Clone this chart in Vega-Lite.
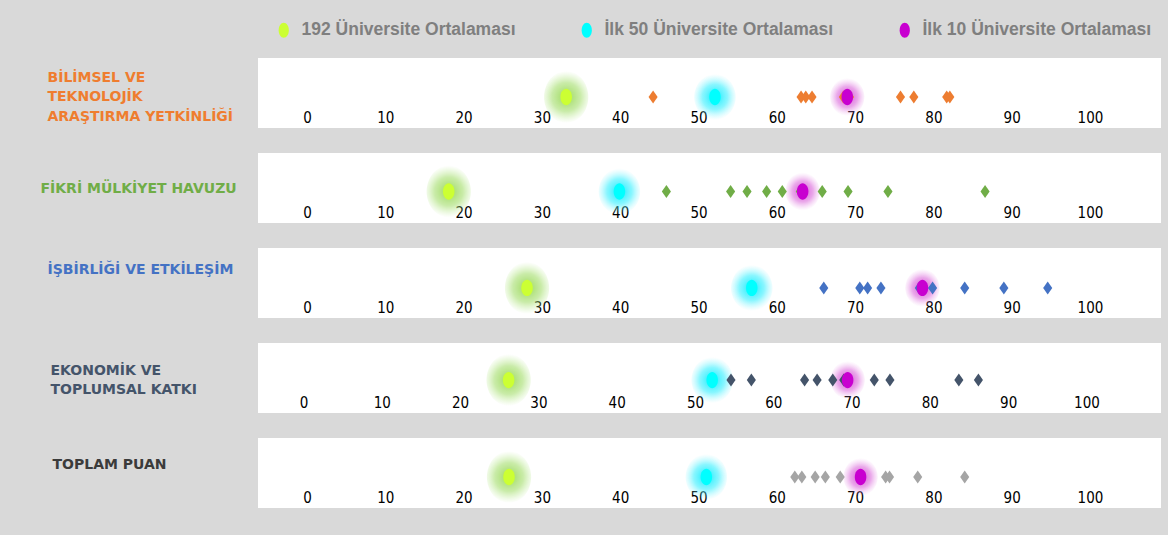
{
  "$schema": "https://vega.github.io/schema/vega-lite/v6.json",
  "background": "#d9d9d9",
  "padding": {"top": 21, "left": 40, "right": 7, "bottom": 27},
  "config": {"view": {"fill": "white", "stroke": null}},
  "datasets": {
    "puanlar": [
      {"kategori": "BİLİMSEL VE TEKNOLOJİK ARAŞTIRMA YETKİNLİĞİ", "seri": "192 Üniversite Ortalaması", "deger": 33.1},
      {"kategori": "BİLİMSEL VE TEKNOLOJİK ARAŞTIRMA YETKİNLİĞİ", "seri": "İlk 50 Üniversite Ortalaması", "deger": 52.1},
      {"kategori": "BİLİMSEL VE TEKNOLOJİK ARAŞTIRMA YETKİNLİĞİ", "seri": "İlk 10 Üniversite Ortalaması", "deger": 69.0},
      {"kategori": "BİLİMSEL VE TEKNOLOJİK ARAŞTIRMA YETKİNLİĞİ", "seri": "Üniversite", "deger": 44.2},
      {"kategori": "BİLİMSEL VE TEKNOLOJİK ARAŞTIRMA YETKİNLİĞİ", "seri": "Üniversite", "deger": 63.1},
      {"kategori": "BİLİMSEL VE TEKNOLOJİK ARAŞTIRMA YETKİNLİĞİ", "seri": "Üniversite", "deger": 63.7},
      {"kategori": "BİLİMSEL VE TEKNOLOJİK ARAŞTIRMA YETKİNLİĞİ", "seri": "Üniversite", "deger": 64.5},
      {"kategori": "BİLİMSEL VE TEKNOLOJİK ARAŞTIRMA YETKİNLİĞİ", "seri": "Üniversite", "deger": 68.5},
      {"kategori": "BİLİMSEL VE TEKNOLOJİK ARAŞTIRMA YETKİNLİĞİ", "seri": "Üniversite", "deger": 69.3},
      {"kategori": "BİLİMSEL VE TEKNOLOJİK ARAŞTIRMA YETKİNLİĞİ", "seri": "Üniversite", "deger": 75.8},
      {"kategori": "BİLİMSEL VE TEKNOLOJİK ARAŞTIRMA YETKİNLİĞİ", "seri": "Üniversite", "deger": 77.5},
      {"kategori": "BİLİMSEL VE TEKNOLOJİK ARAŞTIRMA YETKİNLİĞİ", "seri": "Üniversite", "deger": 81.7},
      {"kategori": "BİLİMSEL VE TEKNOLOJİK ARAŞTIRMA YETKİNLİĞİ", "seri": "Üniversite", "deger": 82.1},
      {"kategori": "FİKRİ MÜLKİYET HAVUZU", "seri": "192 Üniversite Ortalaması", "deger": 18.1},
      {"kategori": "FİKRİ MÜLKİYET HAVUZU", "seri": "İlk 50 Üniversite Ortalaması", "deger": 39.9},
      {"kategori": "FİKRİ MÜLKİYET HAVUZU", "seri": "İlk 10 Üniversite Ortalaması", "deger": 63.3},
      {"kategori": "FİKRİ MÜLKİYET HAVUZU", "seri": "Üniversite", "deger": 45.9},
      {"kategori": "FİKRİ MÜLKİYET HAVUZU", "seri": "Üniversite", "deger": 54.1},
      {"kategori": "FİKRİ MÜLKİYET HAVUZU", "seri": "Üniversite", "deger": 56.2},
      {"kategori": "FİKRİ MÜLKİYET HAVUZU", "seri": "Üniversite", "deger": 58.7},
      {"kategori": "FİKRİ MÜLKİYET HAVUZU", "seri": "Üniversite", "deger": 60.7},
      {"kategori": "FİKRİ MÜLKİYET HAVUZU", "seri": "Üniversite", "deger": 63.0},
      {"kategori": "FİKRİ MÜLKİYET HAVUZU", "seri": "Üniversite", "deger": 65.8},
      {"kategori": "FİKRİ MÜLKİYET HAVUZU", "seri": "Üniversite", "deger": 69.1},
      {"kategori": "FİKRİ MÜLKİYET HAVUZU", "seri": "Üniversite", "deger": 74.2},
      {"kategori": "FİKRİ MÜLKİYET HAVUZU", "seri": "Üniversite", "deger": 86.6},
      {"kategori": "İŞBİRLİĞİ VE ETKİLEŞİM", "seri": "192 Üniversite Ortalaması", "deger": 28.1},
      {"kategori": "İŞBİRLİĞİ VE ETKİLEŞİM", "seri": "İlk 50 Üniversite Ortalaması", "deger": 56.8},
      {"kategori": "İŞBİRLİĞİ VE ETKİLEŞİM", "seri": "İlk 10 Üniversite Ortalaması", "deger": 78.6},
      {"kategori": "İŞBİRLİĞİ VE ETKİLEŞİM", "seri": "Üniversite", "deger": 66.0},
      {"kategori": "İŞBİRLİĞİ VE ETKİLEŞİM", "seri": "Üniversite", "deger": 70.6},
      {"kategori": "İŞBİRLİĞİ VE ETKİLEŞİM", "seri": "Üniversite", "deger": 71.6},
      {"kategori": "İŞBİRLİĞİ VE ETKİLEŞİM", "seri": "Üniversite", "deger": 73.3},
      {"kategori": "İŞBİRLİĞİ VE ETKİLEŞİM", "seri": "Üniversite", "deger": 78.2},
      {"kategori": "İŞBİRLİĞİ VE ETKİLEŞİM", "seri": "Üniversite", "deger": 78.8},
      {"kategori": "İŞBİRLİĞİ VE ETKİLEŞİM", "seri": "Üniversite", "deger": 79.9},
      {"kategori": "İŞBİRLİĞİ VE ETKİLEŞİM", "seri": "Üniversite", "deger": 84.0},
      {"kategori": "İŞBİRLİĞİ VE ETKİLEŞİM", "seri": "Üniversite", "deger": 89.0},
      {"kategori": "İŞBİRLİĞİ VE ETKİLEŞİM", "seri": "Üniversite", "deger": 94.6},
      {"kategori": "EKONOMİK VE TOPLUMSAL KATKI", "seri": "192 Üniversite Ortalaması", "deger": 26.2},
      {"kategori": "EKONOMİK VE TOPLUMSAL KATKI", "seri": "İlk 50 Üniversite Ortalaması", "deger": 52.2},
      {"kategori": "EKONOMİK VE TOPLUMSAL KATKI", "seri": "İlk 10 Üniversite Ortalaması", "deger": 69.5},
      {"kategori": "EKONOMİK VE TOPLUMSAL KATKI", "seri": "Üniversite", "deger": 54.6},
      {"kategori": "EKONOMİK VE TOPLUMSAL KATKI", "seri": "Üniversite", "deger": 57.2},
      {"kategori": "EKONOMİK VE TOPLUMSAL KATKI", "seri": "Üniversite", "deger": 64.0},
      {"kategori": "EKONOMİK VE TOPLUMSAL KATKI", "seri": "Üniversite", "deger": 65.6},
      {"kategori": "EKONOMİK VE TOPLUMSAL KATKI", "seri": "Üniversite", "deger": 67.6},
      {"kategori": "EKONOMİK VE TOPLUMSAL KATKI", "seri": "Üniversite", "deger": 69.0},
      {"kategori": "EKONOMİK VE TOPLUMSAL KATKI", "seri": "Üniversite", "deger": 72.9},
      {"kategori": "EKONOMİK VE TOPLUMSAL KATKI", "seri": "Üniversite", "deger": 74.9},
      {"kategori": "EKONOMİK VE TOPLUMSAL KATKI", "seri": "Üniversite", "deger": 83.7},
      {"kategori": "EKONOMİK VE TOPLUMSAL KATKI", "seri": "Üniversite", "deger": 86.2},
      {"kategori": "TOPLAM PUAN", "seri": "192 Üniversite Ortalaması", "deger": 25.8},
      {"kategori": "TOPLAM PUAN", "seri": "İlk 50 Üniversite Ortalaması", "deger": 51.0},
      {"kategori": "TOPLAM PUAN", "seri": "İlk 10 Üniversite Ortalaması", "deger": 70.7},
      {"kategori": "TOPLAM PUAN", "seri": "Üniversite", "deger": 62.3},
      {"kategori": "TOPLAM PUAN", "seri": "Üniversite", "deger": 63.2},
      {"kategori": "TOPLAM PUAN", "seri": "Üniversite", "deger": 64.9},
      {"kategori": "TOPLAM PUAN", "seri": "Üniversite", "deger": 66.2},
      {"kategori": "TOPLAM PUAN", "seri": "Üniversite", "deger": 68.1},
      {"kategori": "TOPLAM PUAN", "seri": "Üniversite", "deger": 70.8},
      {"kategori": "TOPLAM PUAN", "seri": "Üniversite", "deger": 73.9},
      {"kategori": "TOPLAM PUAN", "seri": "Üniversite", "deger": 74.4},
      {"kategori": "TOPLAM PUAN", "seri": "Üniversite", "deger": 78.0},
      {"kategori": "TOPLAM PUAN", "seri": "Üniversite", "deger": 84.0}
    ]
  },
  "data": {"name": "puanlar"},
  "spacing": 25,
  "bounds": "flush",
  "vconcat": [
    {
      "width": 903, "height": 70,
      "transform": [{"filter": "datum.kategori === 'BİLİMSEL VE TEKNOLOJİK ARAŞTIRMA YETKİNLİĞİ'"}],
      "encoding": {
        "x": {"field": "deger", "type": "quantitative", "scale": {"domain": [-6.26, 109.07], "nice": false, "zero": false},
          "axis": {"orient": "bottom", "offset": -18, "values": [0,10,20,30,40,50,60,70,80,90,100], "domain": false, "ticks": false, "grid": false, "title": null, "labelPadding": 0, "labelFont": "Liberation Sans Narrow, DejaVu Sans Condensed, sans-serif", "labelFontSize": 15, "labelColor": "#000000", "labelFlush": false, "labelOverlap": false}},
        "y": {"field": "kategori", "type": "nominal", "scale": {"type": "point", "align": 0.557},
          "axis": {"title": null, "domain": false, "ticks": false, "labelAlign": "left", "labelBaseline": "middle", "labelPadding": 211, "labelOffset": -19.5, "labelColor": "#ef7d2f", "labelFont": "DejaVu Sans", "labelFontWeight": "bold", "labelFontSize": 14, "labelLineHeight": 19.5, "labelLimit": 400, "labelExpr": "['BİLİMSEL VE', 'TEKNOLOJİK', 'ARAŞTIRMA YETKİNLİĞİ']"}}
      },
      "layer": [
        {"transform": [{"aggregate": [{"op": "count", "as": "n"}], "groupby": ["kategori"]}], "mark": {"type": "rule", "color": "#d6d6d6", "strokeWidth": 2}, "encoding": {"x": {"datum": 0}, "x2": {"datum": 100}}},
        {"transform": [{"filter": "datum.seri === '192 Üniversite Ortalaması'"}], "mark": {"type": "point", "shape": "M-0.85,0A0.85,1 0 1,0 0.85,0A0.85,1 0 1,0 -0.85,0Z", "size": 2704, "filled": true, "opacity": 1, "strokeWidth": 0, "fill": {"gradient": "radial", "stops": [{"offset": 0, "color": "rgba(150,215,80,0.95)"}, {"offset": 0.55, "color": "rgba(165,222,110,0.6)"}, {"offset": 1, "color": "rgba(190,235,150,0)"}]}}},
        {"transform": [{"filter": "datum.seri === 'İlk 50 Üniversite Ortalaması'"}], "mark": {"type": "point", "shape": "M-0.9,0A0.9,1 0 1,0 0.9,0A0.9,1 0 1,0 -0.9,0Z", "size": 2116, "filled": true, "opacity": 1, "strokeWidth": 0, "fill": {"gradient": "radial", "stops": [{"offset": 0, "color": "rgba(0,235,255,0.95)"}, {"offset": 0.55, "color": "rgba(60,240,255,0.6)"}, {"offset": 1, "color": "rgba(150,245,255,0)"}]}}},
        {"transform": [{"filter": "datum.seri === 'İlk 10 Üniversite Ortalaması'"}], "mark": {"type": "point", "shape": "M-0.9,0A0.9,1 0 1,0 0.9,0A0.9,1 0 1,0 -0.9,0Z", "size": 1444, "filled": true, "opacity": 1, "strokeWidth": 0, "fill": {"gradient": "radial", "stops": [{"offset": 0, "color": "rgba(210,70,210,0.95)"}, {"offset": 0.55, "color": "rgba(220,110,220,0.6)"}, {"offset": 1, "color": "rgba(235,170,235,0)"}]}}},
        {"transform": [{"filter": "datum.seri === 'Üniversite'"}], "mark": {"type": "point", "shape": "M0,-1L0.7,0L0,1L-0.7,0Z", "size": 169, "filled": true, "opacity": 1, "color": "#ed7d31"}},
        {"transform": [{"filter": "datum.seri !== 'Üniversite'"}], "mark": {"type": "point", "shape": "M-0.7,0A0.7,1 0 1,0 0.7,0A0.7,1 0 1,0 -0.7,0Z", "size": 270, "filled": true, "opacity": 1},
          "encoding": {"color": {"field": "seri", "type": "nominal", "scale": {"domain": ["192 Üniversite Ortalaması", "İlk 50 Üniversite Ortalaması", "İlk 10 Üniversite Ortalaması"], "range": ["#ccff33", "#00ffff", "#c800d0"]},
            "legend": {"title": null, "orient": "none", "direction": "horizontal", "legendX": 17, "legendY": -37, "symbolType": "M-0.68,0A0.68,1 0 1,0 0.68,0A0.68,1 0 1,0 -0.68,0Z", "symbolSize": 225, "symbolStrokeWidth": 0, "symbolOpacity": 1, "labelFont": "Liberation Sans", "labelFontWeight": "bold", "labelFontSize": 17.5, "labelColor": "#7f7f7f", "columnPadding": 62, "labelOffset": 9, "labelLimit": 400}}}}
      ]
    },
    {
      "width": 903, "height": 70,
      "transform": [{"filter": "datum.kategori === 'FİKRİ MÜLKİYET HAVUZU'"}],
      "encoding": {
        "x": {"field": "deger", "type": "quantitative", "scale": {"domain": [-6.26, 109.07], "nice": false, "zero": false},
          "axis": {"orient": "bottom", "offset": -18, "values": [0,10,20,30,40,50,60,70,80,90,100], "domain": false, "ticks": false, "grid": false, "title": null, "labelPadding": 0, "labelFont": "Liberation Sans Narrow, DejaVu Sans Condensed, sans-serif", "labelFontSize": 15, "labelColor": "#000000", "labelFlush": false, "labelOverlap": false}},
        "y": {"field": "kategori", "type": "nominal", "scale": {"type": "point", "align": 0.55},
          "axis": {"title": null, "domain": false, "ticks": false, "labelAlign": "left", "labelBaseline": "middle", "labelPadding": 218, "labelOffset": -3, "labelColor": "#70ad47", "labelFont": "DejaVu Sans", "labelFontWeight": "bold", "labelFontSize": 14, "labelLimit": 400}}
      },
      "layer": [
        {"transform": [{"aggregate": [{"op": "count", "as": "n"}], "groupby": ["kategori"]}], "mark": {"type": "rule", "color": "#d6d6d6", "strokeWidth": 2}, "encoding": {"x": {"datum": 0}, "x2": {"datum": 100}}},
        {"transform": [{"filter": "datum.seri === '192 Üniversite Ortalaması'"}], "mark": {"type": "point", "shape": "M-0.85,0A0.85,1 0 1,0 0.85,0A0.85,1 0 1,0 -0.85,0Z", "size": 2704, "filled": true, "opacity": 1, "strokeWidth": 0, "fill": {"gradient": "radial", "stops": [{"offset": 0, "color": "rgba(150,215,80,0.95)"}, {"offset": 0.55, "color": "rgba(165,222,110,0.6)"}, {"offset": 1, "color": "rgba(190,235,150,0)"}]}}},
        {"transform": [{"filter": "datum.seri === 'İlk 50 Üniversite Ortalaması'"}], "mark": {"type": "point", "shape": "M-0.9,0A0.9,1 0 1,0 0.9,0A0.9,1 0 1,0 -0.9,0Z", "size": 2116, "filled": true, "opacity": 1, "strokeWidth": 0, "fill": {"gradient": "radial", "stops": [{"offset": 0, "color": "rgba(0,235,255,0.95)"}, {"offset": 0.55, "color": "rgba(60,240,255,0.6)"}, {"offset": 1, "color": "rgba(150,245,255,0)"}]}}},
        {"transform": [{"filter": "datum.seri === 'İlk 10 Üniversite Ortalaması'"}], "mark": {"type": "point", "shape": "M-0.9,0A0.9,1 0 1,0 0.9,0A0.9,1 0 1,0 -0.9,0Z", "size": 1444, "filled": true, "opacity": 1, "strokeWidth": 0, "fill": {"gradient": "radial", "stops": [{"offset": 0, "color": "rgba(210,70,210,0.95)"}, {"offset": 0.55, "color": "rgba(220,110,220,0.6)"}, {"offset": 1, "color": "rgba(235,170,235,0)"}]}}},
        {"transform": [{"filter": "datum.seri === 'Üniversite'"}], "mark": {"type": "point", "shape": "M0,-1L0.7,0L0,1L-0.7,0Z", "size": 169, "filled": true, "opacity": 1, "color": "#70ad47"}},
        {"transform": [{"filter": "datum.seri !== 'Üniversite'"}], "mark": {"type": "point", "shape": "M-0.7,0A0.7,1 0 1,0 0.7,0A0.7,1 0 1,0 -0.7,0Z", "size": 270, "filled": true, "opacity": 1},
          "encoding": {"color": {"field": "seri", "type": "nominal", "scale": {"domain": ["192 Üniversite Ortalaması", "İlk 50 Üniversite Ortalaması", "İlk 10 Üniversite Ortalaması"], "range": ["#ccff33", "#00ffff", "#c800d0"]},
            "legend": {"title": null, "orient": "none", "direction": "horizontal", "legendX": 17, "legendY": -37, "symbolType": "M-0.68,0A0.68,1 0 1,0 0.68,0A0.68,1 0 1,0 -0.68,0Z", "symbolSize": 225, "symbolStrokeWidth": 0, "symbolOpacity": 1, "labelFont": "Liberation Sans", "labelFontWeight": "bold", "labelFontSize": 17.5, "labelColor": "#7f7f7f", "columnPadding": 62, "labelOffset": 9, "labelLimit": 400}}}}
      ]
    },
    {
      "width": 903, "height": 70,
      "transform": [{"filter": "datum.kategori === 'İŞBİRLİĞİ VE ETKİLEŞİM'"}],
      "encoding": {
        "x": {"field": "deger", "type": "quantitative", "scale": {"domain": [-6.26, 109.07], "nice": false, "zero": false},
          "axis": {"orient": "bottom", "offset": -18, "values": [0,10,20,30,40,50,60,70,80,90,100], "domain": false, "ticks": false, "grid": false, "title": null, "labelPadding": 0, "labelFont": "Liberation Sans Narrow, DejaVu Sans Condensed, sans-serif", "labelFontSize": 15, "labelColor": "#000000", "labelFlush": false, "labelOverlap": false}},
        "y": {"field": "kategori", "type": "nominal", "scale": {"type": "point", "align": 0.57},
          "axis": {"title": null, "domain": false, "ticks": false, "labelAlign": "left", "labelBaseline": "middle", "labelPadding": 211, "labelOffset": -18, "labelColor": "#4472c4", "labelFont": "DejaVu Sans", "labelFontWeight": "bold", "labelFontSize": 14, "labelLimit": 400}}
      },
      "layer": [
        {"transform": [{"aggregate": [{"op": "count", "as": "n"}], "groupby": ["kategori"]}], "mark": {"type": "rule", "color": "#d6d6d6", "strokeWidth": 2}, "encoding": {"x": {"datum": 0}, "x2": {"datum": 100}}},
        {"transform": [{"filter": "datum.seri === '192 Üniversite Ortalaması'"}], "mark": {"type": "point", "shape": "M-0.85,0A0.85,1 0 1,0 0.85,0A0.85,1 0 1,0 -0.85,0Z", "size": 2704, "filled": true, "opacity": 1, "strokeWidth": 0, "fill": {"gradient": "radial", "stops": [{"offset": 0, "color": "rgba(150,215,80,0.95)"}, {"offset": 0.55, "color": "rgba(165,222,110,0.6)"}, {"offset": 1, "color": "rgba(190,235,150,0)"}]}}},
        {"transform": [{"filter": "datum.seri === 'İlk 50 Üniversite Ortalaması'"}], "mark": {"type": "point", "shape": "M-0.9,0A0.9,1 0 1,0 0.9,0A0.9,1 0 1,0 -0.9,0Z", "size": 2116, "filled": true, "opacity": 1, "strokeWidth": 0, "fill": {"gradient": "radial", "stops": [{"offset": 0, "color": "rgba(0,235,255,0.95)"}, {"offset": 0.55, "color": "rgba(60,240,255,0.6)"}, {"offset": 1, "color": "rgba(150,245,255,0)"}]}}},
        {"transform": [{"filter": "datum.seri === 'İlk 10 Üniversite Ortalaması'"}], "mark": {"type": "point", "shape": "M-0.9,0A0.9,1 0 1,0 0.9,0A0.9,1 0 1,0 -0.9,0Z", "size": 1444, "filled": true, "opacity": 1, "strokeWidth": 0, "fill": {"gradient": "radial", "stops": [{"offset": 0, "color": "rgba(210,70,210,0.95)"}, {"offset": 0.55, "color": "rgba(220,110,220,0.6)"}, {"offset": 1, "color": "rgba(235,170,235,0)"}]}}},
        {"transform": [{"filter": "datum.seri === 'Üniversite'"}], "mark": {"type": "point", "shape": "M0,-1L0.7,0L0,1L-0.7,0Z", "size": 169, "filled": true, "opacity": 1, "color": "#4472c4"}},
        {"transform": [{"filter": "datum.seri !== 'Üniversite'"}], "mark": {"type": "point", "shape": "M-0.7,0A0.7,1 0 1,0 0.7,0A0.7,1 0 1,0 -0.7,0Z", "size": 270, "filled": true, "opacity": 1},
          "encoding": {"color": {"field": "seri", "type": "nominal", "scale": {"domain": ["192 Üniversite Ortalaması", "İlk 50 Üniversite Ortalaması", "İlk 10 Üniversite Ortalaması"], "range": ["#ccff33", "#00ffff", "#c800d0"]},
            "legend": {"title": null, "orient": "none", "direction": "horizontal", "legendX": 17, "legendY": -37, "symbolType": "M-0.68,0A0.68,1 0 1,0 0.68,0A0.68,1 0 1,0 -0.68,0Z", "symbolSize": 225, "symbolStrokeWidth": 0, "symbolOpacity": 1, "labelFont": "Liberation Sans", "labelFontWeight": "bold", "labelFontSize": 17.5, "labelColor": "#7f7f7f", "columnPadding": 62, "labelOffset": 9, "labelLimit": 400}}}}
      ]
    },
    {
      "width": 903, "height": 70,
      "transform": [{"filter": "datum.kategori === 'EKONOMİK VE TOPLUMSAL KATKI'"}],
      "encoding": {
        "x": {"field": "deger", "type": "quantitative", "scale": {"domain": [-5.81, 109.52], "nice": false, "zero": false},
          "axis": {"orient": "bottom", "offset": -18, "values": [0,10,20,30,40,50,60,70,80,90,100], "domain": false, "ticks": false, "grid": false, "title": null, "labelPadding": 0, "labelFont": "Liberation Sans Narrow, DejaVu Sans Condensed, sans-serif", "labelFontSize": 15, "labelColor": "#000000", "labelFlush": false, "labelOverlap": false}},
        "y": {"field": "kategori", "type": "nominal", "scale": {"type": "point", "align": 0.53},
          "axis": {"title": null, "domain": false, "ticks": false, "labelAlign": "left", "labelBaseline": "middle", "labelPadding": 208, "labelOffset": -9.75, "labelColor": "#44546a", "labelFont": "DejaVu Sans", "labelFontWeight": "bold", "labelFontSize": 14, "labelLineHeight": 19.5, "labelLimit": 400, "labelExpr": "['EKONOMİK VE', 'TOPLUMSAL KATKI']"}}
      },
      "layer": [
        {"transform": [{"aggregate": [{"op": "count", "as": "n"}], "groupby": ["kategori"]}], "mark": {"type": "rule", "color": "#d6d6d6", "strokeWidth": 2}, "encoding": {"x": {"datum": 0}, "x2": {"datum": 100}}},
        {"transform": [{"filter": "datum.seri === '192 Üniversite Ortalaması'"}], "mark": {"type": "point", "shape": "M-0.85,0A0.85,1 0 1,0 0.85,0A0.85,1 0 1,0 -0.85,0Z", "size": 2704, "filled": true, "opacity": 1, "strokeWidth": 0, "fill": {"gradient": "radial", "stops": [{"offset": 0, "color": "rgba(150,215,80,0.95)"}, {"offset": 0.55, "color": "rgba(165,222,110,0.6)"}, {"offset": 1, "color": "rgba(190,235,150,0)"}]}}},
        {"transform": [{"filter": "datum.seri === 'İlk 50 Üniversite Ortalaması'"}], "mark": {"type": "point", "shape": "M-0.9,0A0.9,1 0 1,0 0.9,0A0.9,1 0 1,0 -0.9,0Z", "size": 2116, "filled": true, "opacity": 1, "strokeWidth": 0, "fill": {"gradient": "radial", "stops": [{"offset": 0, "color": "rgba(0,235,255,0.95)"}, {"offset": 0.55, "color": "rgba(60,240,255,0.6)"}, {"offset": 1, "color": "rgba(150,245,255,0)"}]}}},
        {"transform": [{"filter": "datum.seri === 'İlk 10 Üniversite Ortalaması'"}], "mark": {"type": "point", "shape": "M-0.9,0A0.9,1 0 1,0 0.9,0A0.9,1 0 1,0 -0.9,0Z", "size": 1444, "filled": true, "opacity": 1, "strokeWidth": 0, "fill": {"gradient": "radial", "stops": [{"offset": 0, "color": "rgba(210,70,210,0.95)"}, {"offset": 0.55, "color": "rgba(220,110,220,0.6)"}, {"offset": 1, "color": "rgba(235,170,235,0)"}]}}},
        {"transform": [{"filter": "datum.seri === 'Üniversite'"}], "mark": {"type": "point", "shape": "M0,-1L0.7,0L0,1L-0.7,0Z", "size": 169, "filled": true, "opacity": 1, "color": "#44546a"}},
        {"transform": [{"filter": "datum.seri !== 'Üniversite'"}], "mark": {"type": "point", "shape": "M-0.7,0A0.7,1 0 1,0 0.7,0A0.7,1 0 1,0 -0.7,0Z", "size": 270, "filled": true, "opacity": 1},
          "encoding": {"color": {"field": "seri", "type": "nominal", "scale": {"domain": ["192 Üniversite Ortalaması", "İlk 50 Üniversite Ortalaması", "İlk 10 Üniversite Ortalaması"], "range": ["#ccff33", "#00ffff", "#c800d0"]},
            "legend": {"title": null, "orient": "none", "direction": "horizontal", "legendX": 17, "legendY": -37, "symbolType": "M-0.68,0A0.68,1 0 1,0 0.68,0A0.68,1 0 1,0 -0.68,0Z", "symbolSize": 225, "symbolStrokeWidth": 0, "symbolOpacity": 1, "labelFont": "Liberation Sans", "labelFontWeight": "bold", "labelFontSize": 17.5, "labelColor": "#7f7f7f", "columnPadding": 62, "labelOffset": 9, "labelLimit": 400}}}}
      ]
    },
    {
      "width": 903, "height": 70,
      "transform": [{"filter": "datum.kategori === 'TOPLAM PUAN'"}],
      "encoding": {
        "x": {"field": "deger", "type": "quantitative", "scale": {"domain": [-6.26, 109.07], "nice": false, "zero": false},
          "axis": {"orient": "bottom", "offset": -18, "values": [0,10,20,30,40,50,60,70,80,90,100], "domain": false, "ticks": false, "grid": false, "title": null, "labelPadding": 0, "labelFont": "Liberation Sans Narrow, DejaVu Sans Condensed, sans-serif", "labelFontSize": 15, "labelColor": "#000000", "labelFlush": false, "labelOverlap": false}},
        "y": {"field": "kategori", "type": "nominal", "scale": {"type": "point", "align": 0.557},
          "axis": {"title": null, "domain": false, "ticks": false, "labelAlign": "left", "labelBaseline": "middle", "labelPadding": 206, "labelOffset": -12, "labelColor": "#3b3b3b", "labelFont": "DejaVu Sans", "labelFontWeight": "bold", "labelFontSize": 14, "labelLimit": 400}}
      },
      "layer": [
        {"transform": [{"aggregate": [{"op": "count", "as": "n"}], "groupby": ["kategori"]}], "mark": {"type": "rule", "color": "#d6d6d6", "strokeWidth": 2}, "encoding": {"x": {"datum": 0}, "x2": {"datum": 100}}},
        {"transform": [{"filter": "datum.seri === '192 Üniversite Ortalaması'"}], "mark": {"type": "point", "shape": "M-0.85,0A0.85,1 0 1,0 0.85,0A0.85,1 0 1,0 -0.85,0Z", "size": 2704, "filled": true, "opacity": 1, "strokeWidth": 0, "fill": {"gradient": "radial", "stops": [{"offset": 0, "color": "rgba(150,215,80,0.95)"}, {"offset": 0.55, "color": "rgba(165,222,110,0.6)"}, {"offset": 1, "color": "rgba(190,235,150,0)"}]}}},
        {"transform": [{"filter": "datum.seri === 'İlk 50 Üniversite Ortalaması'"}], "mark": {"type": "point", "shape": "M-0.9,0A0.9,1 0 1,0 0.9,0A0.9,1 0 1,0 -0.9,0Z", "size": 2116, "filled": true, "opacity": 1, "strokeWidth": 0, "fill": {"gradient": "radial", "stops": [{"offset": 0, "color": "rgba(0,235,255,0.95)"}, {"offset": 0.55, "color": "rgba(60,240,255,0.6)"}, {"offset": 1, "color": "rgba(150,245,255,0)"}]}}},
        {"transform": [{"filter": "datum.seri === 'İlk 10 Üniversite Ortalaması'"}], "mark": {"type": "point", "shape": "M-0.9,0A0.9,1 0 1,0 0.9,0A0.9,1 0 1,0 -0.9,0Z", "size": 1444, "filled": true, "opacity": 1, "strokeWidth": 0, "fill": {"gradient": "radial", "stops": [{"offset": 0, "color": "rgba(210,70,210,0.95)"}, {"offset": 0.55, "color": "rgba(220,110,220,0.6)"}, {"offset": 1, "color": "rgba(235,170,235,0)"}]}}},
        {"transform": [{"filter": "datum.seri === 'Üniversite'"}], "mark": {"type": "point", "shape": "M0,-1L0.7,0L0,1L-0.7,0Z", "size": 169, "filled": true, "opacity": 1, "color": "#a5a5a5"}},
        {"transform": [{"filter": "datum.seri !== 'Üniversite'"}], "mark": {"type": "point", "shape": "M-0.7,0A0.7,1 0 1,0 0.7,0A0.7,1 0 1,0 -0.7,0Z", "size": 270, "filled": true, "opacity": 1},
          "encoding": {"color": {"field": "seri", "type": "nominal", "scale": {"domain": ["192 Üniversite Ortalaması", "İlk 50 Üniversite Ortalaması", "İlk 10 Üniversite Ortalaması"], "range": ["#ccff33", "#00ffff", "#c800d0"]},
            "legend": {"title": null, "orient": "none", "direction": "horizontal", "legendX": 17, "legendY": -37, "symbolType": "M-0.68,0A0.68,1 0 1,0 0.68,0A0.68,1 0 1,0 -0.68,0Z", "symbolSize": 225, "symbolStrokeWidth": 0, "symbolOpacity": 1, "labelFont": "Liberation Sans", "labelFontWeight": "bold", "labelFontSize": 17.5, "labelColor": "#7f7f7f", "columnPadding": 62, "labelOffset": 9, "labelLimit": 400}}}}
      ]
    }
  ]
}
